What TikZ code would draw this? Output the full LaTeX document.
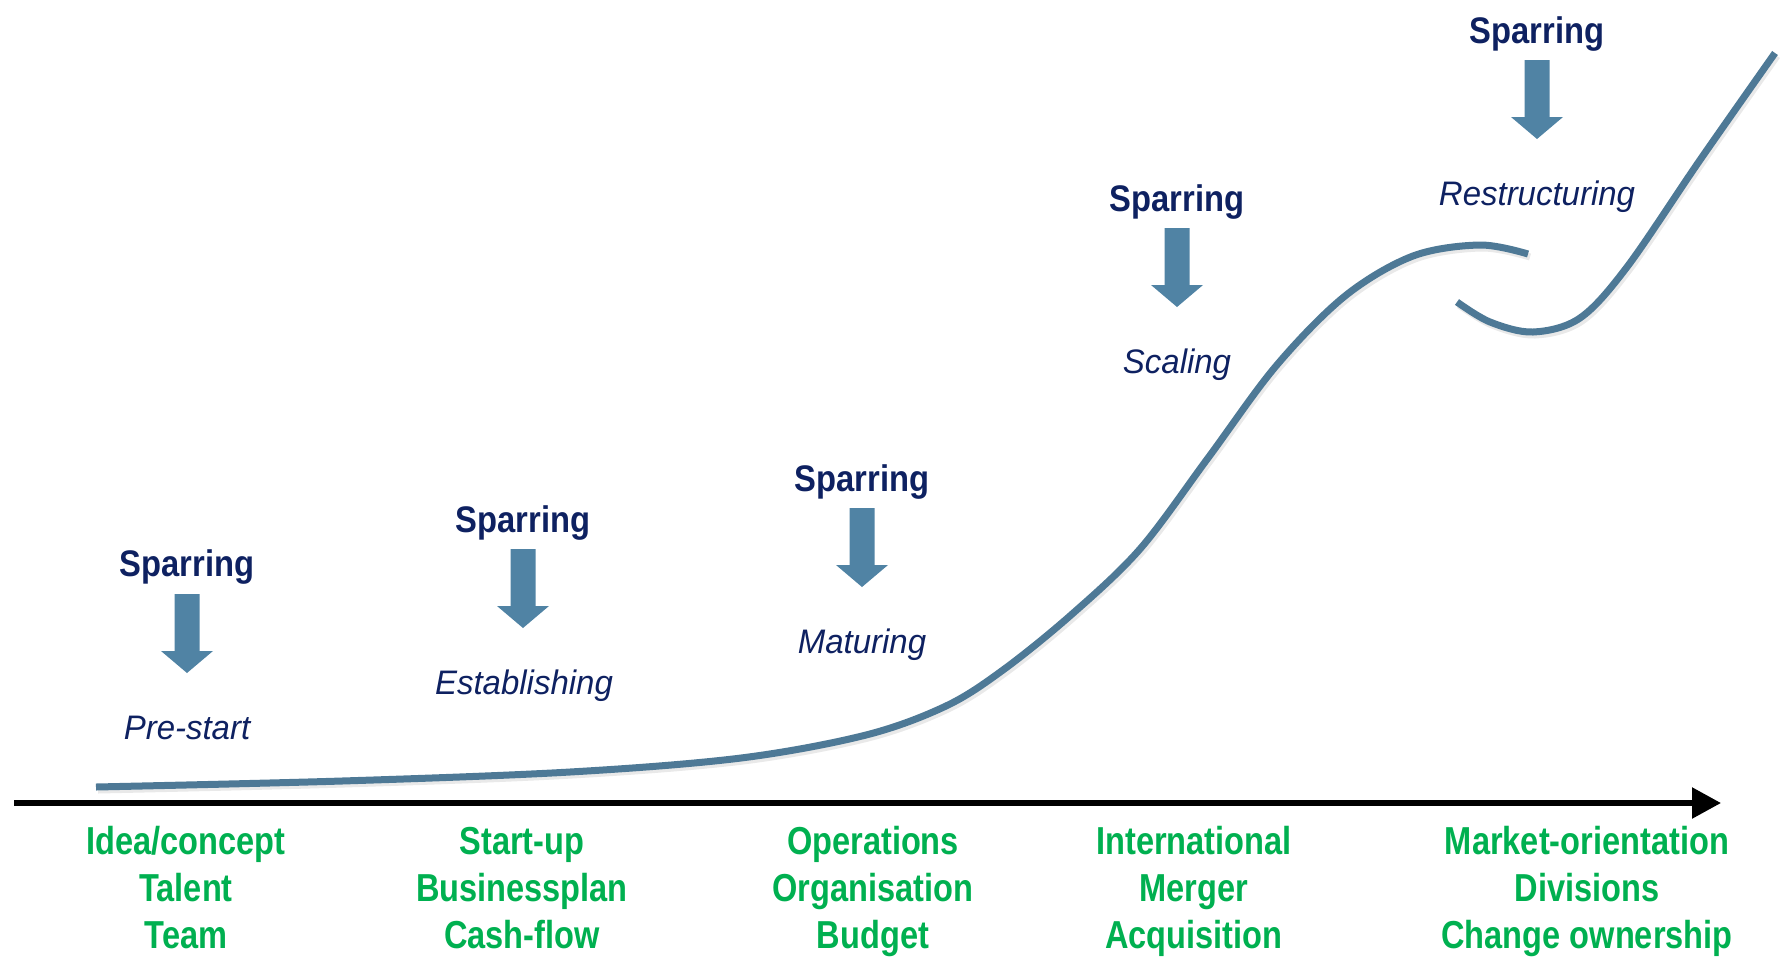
\documentclass[tikz,border=0pt]{standalone}
\usepackage{fontspec}
\setmainfont{Liberation Sans}
\newfontfamily\labfont{Liberation Sans}[FakeStretch=0.885]
\newfontfamily\stagefont{Liberation Sans}[FakeStretch=0.835]
\newfontfamily\itfont{Liberation Sans}[FakeStretch=0.97]
\usetikzlibrary{arrows.meta}
\definecolor{navy}{HTML}{0E2161}
\definecolor{arrowblue}{HTML}{5083A4}
\definecolor{curveblue}{HTML}{4E7996}
\definecolor{stagegreen}{HTML}{00B050}
\tikzset{
  spar/.style={anchor=base, text=navy, inner sep=0pt, font=\labfont\bfseries\fontsize{37}{40}\selectfont},
  phase/.style={anchor=base, text=navy, inner sep=0pt, font=\itfont\itshape\fontsize{34}{38}\selectfont},
  stage/.style={anchor=base, text=stagegreen, inner sep=0pt, font=\stagefont\bfseries\fontsize{39}{42}\selectfont},
  downarrow/.pic={\fill[arrowblue] (-12.5,0) -- (12.5,0) -- (12.5,57) -- (26,57) -- (0,79) -- (-26,57) -- (-12.5,57) -- cycle;},
  curve/.style={draw=curveblue, line width=7pt, line cap=butt},
  shade/.style={draw=black!25, line width=7pt, line cap=butt, opacity=0.35}
}
\begin{document}
\begin{tikzpicture}[x=1pt,y=-1pt]
\useasboundingbox (0,0) rectangle (1787,959);
% axis
\coordinate (axl) at (14,803);
\coordinate (axr) at (1721,803);
\draw[line width=5.5pt, -{Triangle[length=29pt,width=30pt]}] (axl) -- (axr);
% curve (with faint shadow)
\def\segA{(96,787) (342,781) (570,772) (741,758) (866,735) (946,706) (1003,670) (1071,615) (1140,549) (1208,458) (1276,366) (1345,296) (1413,256) (1480,245) (1528,254)}
\def\segB{(1457,302) (1490,322) (1533,332) (1580,318) (1627,267) (1700,160) (1775,53)}
\begin{scope}[shift={(2,3)}]
\draw[shade] plot[smooth, tension=0.55] coordinates {\segA};
\draw[shade] plot[smooth, tension=0.55] coordinates {\segB};
\end{scope}
\draw[curve] plot[smooth, tension=0.55] coordinates {\segA};
\draw[curve] plot[smooth, tension=0.55] coordinates {\segB};
% sparring groups
\node[spar] (s1) at (187,576) {Sparring};
\pic at (187,594) {downarrow};
\node[phase] (p1) at (187,739) {Pre-start};
\node[spar] (s2) at (523,532) {Sparring};
\pic at (523,549) {downarrow};
\node[phase] (p2) at (524,694) {Establishing};
\node[spar] (s3) at (862,491) {Sparring};
\pic at (862,508) {downarrow};
\node[phase] (p3) at (862,653) {Maturing};
\node[spar] (s4) at (1177,211) {Sparring};
\pic at (1177,228) {downarrow};
\node[phase] (p4) at (1177,373) {Scaling};
\node[spar] (s5) at (1537,43) {Sparring};
\pic at (1537,60) {downarrow};
\node[phase] (p5) at (1537,205) {Restructuring};
% stages
\node[stage] (a1) at (186,854) {Idea/concept};
\node[stage] (a2) at (186,901) {Talent};
\node[stage] (a3) at (186,948) {Team};
\node[stage] (b1) at (522,854) {Start-up};
\node[stage] (b2) at (522,901) {Businessplan};
\node[stage] (b3) at (522,948) {Cash-flow};
\node[stage] (c1) at (873,854) {Operations};
\node[stage] (c2) at (873,901) {Organisation};
\node[stage] (c3) at (873,948) {Budget};
\node[stage] (d1) at (1194,854) {International};
\node[stage] (d2) at (1194,901) {Merger};
\node[stage] (d3) at (1194,948) {Acquisition};
\node[stage] (e1) at (1587,854) {Market-orientation};
\node[stage] (e2) at (1587,901) {Divisions};
\node[stage] (e3) at (1587,948) {Change ownership};
\end{tikzpicture}
\end{document}
